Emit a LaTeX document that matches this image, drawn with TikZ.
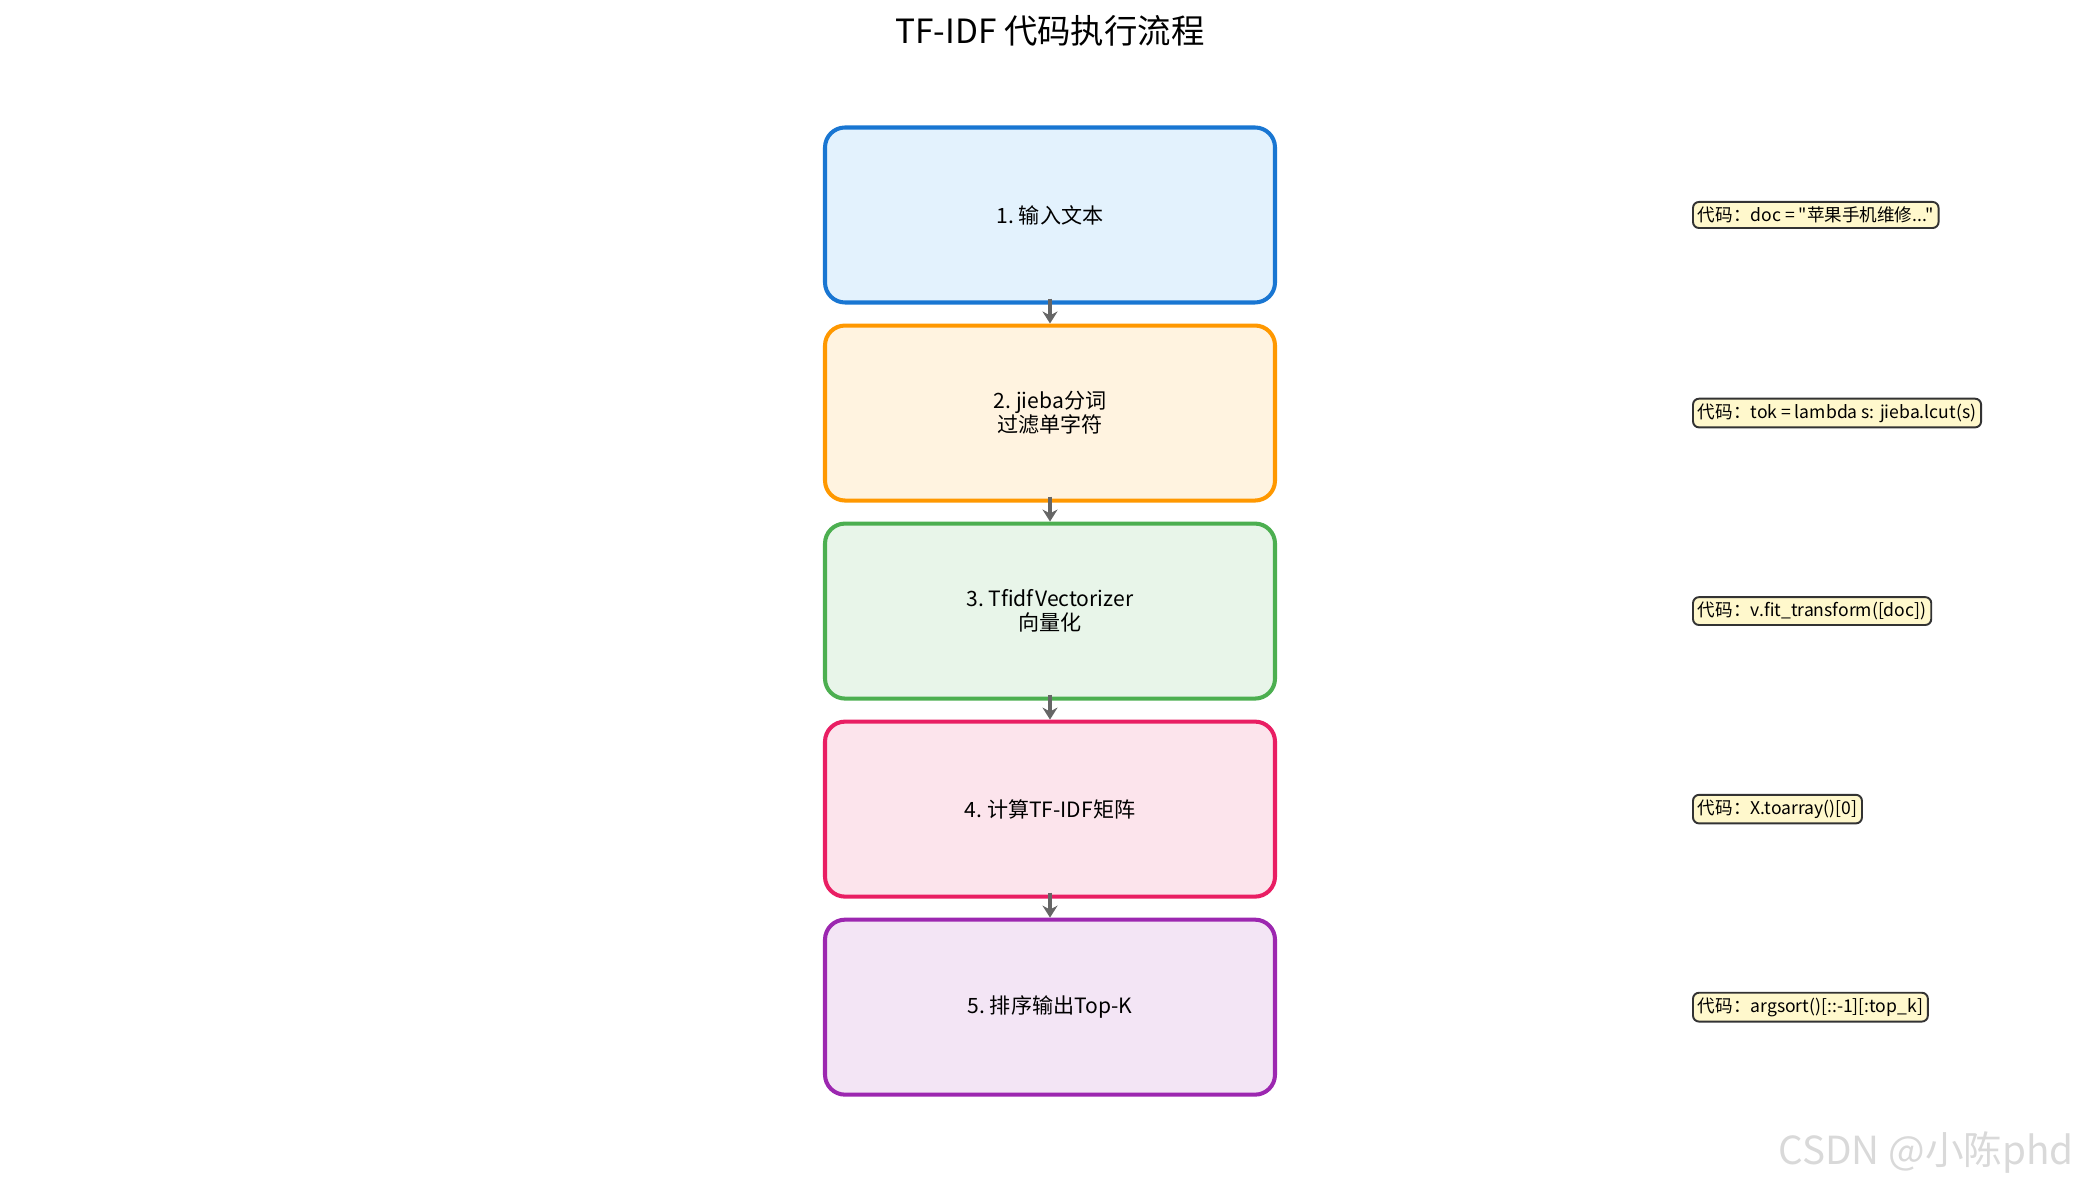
\documentclass[tikz,border=0pt]{standalone}
\usepackage{fontspec}
\setmainfont{Noto Sans CJK SC}
\newfontfamily\codefont{Noto Sans CJK SC}
\usepackage{tikz}
\usetikzlibrary{arrows.meta,positioning}

\definecolor{blueline}{HTML}{1976D2}
\definecolor{bluefill}{HTML}{E3F2FD}
\definecolor{orangeline}{HTML}{FF9800}
\definecolor{orangefill}{HTML}{FFF3E0}
\definecolor{greenline}{HTML}{4CAF50}
\definecolor{greenfill}{HTML}{E8F5E9}
\definecolor{pinkline}{HTML}{E91E63}
\definecolor{pinkfill}{HTML}{FCE4EC}
\definecolor{purpleline}{HTML}{9C27B0}
\definecolor{purplefill}{HTML}{F3E5F5}
\definecolor{codefill}{HTML}{FFF8CC}
\definecolor{arrowgray}{HTML}{666666}

\begin{document}
\begin{tikzpicture}[
    node distance=0.38cm,
    stepbox/.style={draw, rounded corners=0.4cm, line width=2.3pt,
      minimum width=9.0cm, minimum height=3.5cm, align=center,
      font=\fontsize{12}{13.5}\selectfont},
    codebox/.style={draw=black!80, fill=codefill, rounded corners=0.12cm,
      line width=1.1pt, inner sep=2.8pt, anchor=west,
      font=\codefont\fontsize{10}{11}\selectfont},
    arrow/.style={-{Stealth[length=2.4mm, width=3mm]}, line width=2.2pt, draw=arrowgray},
  ]
  \useasboundingbox (0,0) rectangle (41.68,23.7);

  \node[font=\fontsize{19}{22}\selectfont] (title) at (21.0,23.08) {TF-IDF 代码执行流程};

  \node[stepbox, draw=blueline, fill=bluefill] (s1) at (21.0,19.4) {1.~输入文本};
  \node[stepbox, draw=orangeline, fill=orangefill, below=of s1] (s2) {2.~jieba分词\\过滤单字符};
  \node[stepbox, draw=greenline, fill=greenfill, below=of s2] (s3) {3.~TfidfVectorizer\\向量化};
  \node[stepbox, draw=pinkline, fill=pinkfill, below=of s3] (s4) {4.~计算TF-IDF矩阵};
  \node[stepbox, draw=purpleline, fill=purplefill, below=of s4] (s5) {5.~排序输出Top-K};

  \draw[arrow] ([yshift=0.12cm]s1.south) -- (s2.north);
  \draw[arrow] ([yshift=0.12cm]s2.south) -- (s3.north);
  \draw[arrow] ([yshift=0.12cm]s3.south) -- (s4.north);
  \draw[arrow] ([yshift=0.12cm]s4.south) -- (s5.north);

  \node[codebox, right=8.3cm of s1] (c1) {代码：doc = "苹果手机维修..."};
  \node[codebox, right=8.3cm of s2] (c2) {代码：tok = lambda s: jieba.lcut(s)};
  \node[codebox, right=8.3cm of s3] (c3) {代码：v.fit\_transform([doc])};
  \node[codebox, right=8.3cm of s4] (c4) {代码：X.toarray()[0]};
  \node[codebox, right=8.3cm of s5] (c5) {代码：argsort()[::-1][:top\_k]};

  \node[anchor=south east, text=black!15, font=\fontsize{22}{24}\selectfont] (mark) at (41.6,0.1) {CSDN @小陈phd};
\end{tikzpicture}
\end{document}
